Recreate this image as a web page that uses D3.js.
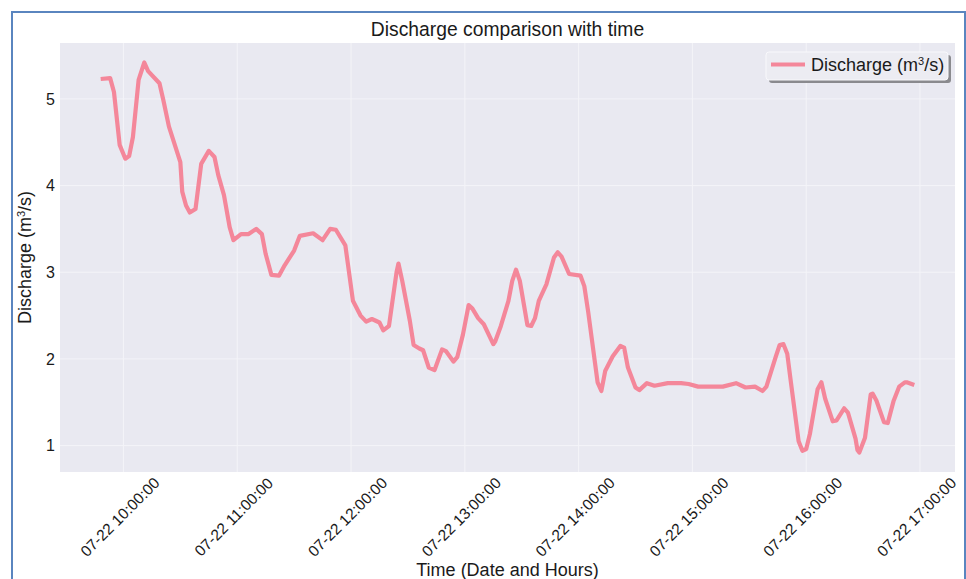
<!DOCTYPE html>
<html>
<head>
<meta charset="utf-8">
<script src="https://cdn.jsdelivr.net/npm/d3@7"></script>
<style>
  html, body { margin: 0; padding: 0; background: #ffffff; }
  svg { display: block; font-family: "Liberation Sans", Arial, sans-serif; }
</style>
</head>
<body>
<svg id="chart" width="966" height="579"></svg>
<script>
// Discharge readings on 22 July (time of reading, m³/s)
const times = [
  "09:48","09:53","09:55","09:58","10:01","10:03","10:05","10:08","10:11","10:13",
  "10:19","10:21","10:24","10:30","10:31","10:33","10:35","10:38","10:41","10:45",
  "10:48","10:50","10:53","10:56","10:58","11:02","11:06","11:10","11:13","11:15",
  "11:18","11:22","11:25","11:30","11:33","11:40","11:45","11:49","11:52","11:57",
  "12:01","12:05","12:08","12:11","12:15","12:17","12:20","12:24","12:25","12:27",
  "12:31","12:33","12:36","12:38","12:41","12:44","12:48","12:50","12:54","12:56",
  "12:59","13:02","13:04","13:07","13:10","13:15","13:16","13:19","13:23","13:25",
  "13:27","13:29","13:33","13:35","13:37","13:39","13:43","13:47","13:49","13:51",
  "13:55","14:01","14:03","14:05","14:10","14:12","14:14","14:18","14:22","14:24",
  "14:26","14:30","14:32","14:36","14:40","14:47","14:54","14:58","15:03","15:10",
  "15:16","15:23","15:28","15:33","15:37","15:39","15:44","15:46","15:48","15:50",
  "15:52","15:56","15:58","16:00","16:02","16:06","16:08","16:10","16:14","16:16",
  "16:20","16:22","16:26","16:27","16:28","16:31","16:34","16:35","16:37","16:41",
  "16:43","16:46","16:49","16:52","16:53","16:57"
];
const discharge = [
  5.23, 5.24, 5.08, 4.47, 4.31, 4.34, 4.56, 5.22, 5.42, 5.32,
  5.18, 4.99, 4.68, 4.27, 3.93, 3.77, 3.69, 3.73, 4.25, 4.40,
  4.33, 4.12, 3.89, 3.52, 3.37, 3.44, 3.44, 3.50, 3.44, 3.21,
  2.97, 2.96, 3.08, 3.25, 3.42, 3.45, 3.37, 3.50, 3.49, 3.31,
  2.67, 2.50, 2.43, 2.46, 2.42, 2.33, 2.38, 3.00, 3.10, 2.90,
  2.44, 2.16, 2.12, 2.10, 1.90, 1.87, 2.11, 2.09, 1.97, 2.02,
  2.28, 2.62, 2.58, 2.47, 2.40, 2.17, 2.20, 2.38, 2.67, 2.90,
  3.03, 2.90, 2.39, 2.38, 2.47, 2.67, 2.86, 3.17, 3.23, 3.18,
  2.98, 2.96, 2.84, 2.55, 1.73, 1.63, 1.86, 2.03, 2.15, 2.13,
  1.90, 1.67, 1.64, 1.72, 1.69, 1.72, 1.72, 1.71, 1.68, 1.68,
  1.68, 1.72, 1.67, 1.68, 1.63, 1.68, 2.03, 2.16, 2.17, 2.06,
  1.72, 1.05, 0.94, 0.96, 1.14, 1.65, 1.73, 1.54, 1.28, 1.29,
  1.43, 1.38, 1.08, 0.95, 0.92, 1.09, 1.59, 1.60, 1.52, 1.27,
  1.26, 1.51, 1.68, 1.73, 1.73, 1.70
];
const dateLabel = "07-22";
const yTicks = [1, 2, 3, 4, 5];
const titleText = "Discharge comparison with time";
const xLabelText = "Time (Date and Hours)";

const parse = d3.timeParse("%m-%d %H:%M");
const data = times.map((t, i) => ({ t: parse(dateLabel + " " + t), v: discharge[i] }));

const svg = d3.select("#chart");
const plot = { left: 60, right: 955, top: 43, bottom: 472 };

// Outer frame
svg.append("rect")
  .attr("x", 12).attr("y", 12)
  .attr("width", 953).attr("height", 620)
  .attr("fill", "none")
  .attr("stroke", "#5a85bf")
  .attr("stroke-width", 2);

// Scales with 5% padding around the data extent
const tExt = d3.extent(data, d => d.t);
const tPad = (tExt[1] - tExt[0]) * 0.05;
const x = d3.scaleTime()
  .domain([new Date(+tExt[0] - tPad), new Date(+tExt[1] + tPad)])
  .range([plot.left, plot.right]);
const vExt = d3.extent(data, d => d.v);
const vPad = (vExt[1] - vExt[0]) * 0.05;
const y = d3.scaleLinear()
  .domain([vExt[0] - vPad, vExt[1] + vPad])
  .range([plot.bottom, plot.top]);

// Plot background
svg.append("rect")
  .attr("x", plot.left).attr("y", plot.top)
  .attr("width", plot.right - plot.left)
  .attr("height", plot.bottom - plot.top)
  .attr("fill", "#e9e9f1");

const xTicks = x.ticks(d3.timeHour.every(1));

// Grid lines
const grid = svg.append("g");
grid.selectAll("line.vx").data(xTicks).join("line")
  .attr("x1", d => x(d)).attr("x2", d => x(d))
  .attr("y1", plot.top).attr("y2", plot.bottom)
  .attr("stroke", "#f4f4f8").attr("stroke-width", 1);
grid.selectAll("line.hy").data(yTicks).join("line")
  .attr("x1", plot.left).attr("x2", plot.right)
  .attr("y1", d => y(d)).attr("y2", d => y(d))
  .attr("stroke", "#f4f4f8").attr("stroke-width", 1);

// Y axis
const yAxis = svg.append("g")
  .attr("transform", `translate(${plot.left},0)`)
  .call(d3.axisLeft(y).tickValues(yTicks).tickSize(0).tickPadding(5).tickFormat(d3.format("d")));
yAxis.select(".domain").remove();
yAxis.selectAll("text")
  .attr("font-size", 16)
  .attr("font-family", "Liberation Sans, Arial, sans-serif")
  .attr("fill", "#1a1a1a");

// X axis with rotated labels
const fmt = d3.timeFormat("%m-%d %H:%M:%S");
const xAxis = svg.append("g")
  .attr("transform", `translate(0,${plot.bottom})`)
  .call(d3.axisBottom(x).tickValues(xTicks).tickSize(0).tickFormat(fmt));
xAxis.select(".domain").remove();
xAxis.selectAll("text")
  .attr("font-size", 15.5)
  .attr("font-family", "Liberation Sans, Arial, sans-serif")
  .attr("fill", "#1a1a1a")
  .attr("text-anchor", "middle")
  .attr("y", 0).attr("dy", "0.35em")
  .attr("transform", "translate(-4,45) rotate(-45)");

// Line
const line = d3.line().x(d => x(d.t)).y(d => y(d.v));
svg.append("path")
  .datum(data)
  .attr("d", line)
  .attr("fill", "none")
  .attr("stroke", "#f4879a")
  .attr("stroke-width", 4.2)
  .attr("stroke-linejoin", "round")
  .attr("stroke-linecap", "butt");

// Title and axis labels
svg.append("text")
  .attr("x", (plot.left + plot.right) / 2).attr("y", 36)
  .attr("text-anchor", "middle")
  .attr("font-size", 19.3)
  .attr("fill", "#1a1a1a")
  .text(titleText);

svg.append("text")
  .attr("x", (plot.left + plot.right) / 2).attr("y", 576)
  .attr("text-anchor", "middle")
  .attr("font-size", 18)
  .attr("fill", "#1a1a1a")
  .text(xLabelText);

const yLab = svg.append("text")
  .attr("transform", `translate(31,${(plot.top + plot.bottom) / 2}) rotate(-90)`)
  .attr("text-anchor", "middle")
  .attr("font-size", 18)
  .attr("fill", "#1a1a1a");
yLab.append("tspan").text("Discharge (m");
yLab.append("tspan").attr("baseline-shift", "super").attr("font-size", 11).text("3");
yLab.append("tspan").text("/s)");

// Legend
const lg = svg.append("g").attr("transform", "translate(766,52)");
lg.append("rect")
  .attr("x", 3).attr("y", 3).attr("width", 182).attr("height", 28)
  .attr("rx", 3).attr("fill", "#8a8a8e");
lg.append("rect")
  .attr("x", 0).attr("y", 0).attr("width", 182).attr("height", 28)
  .attr("rx", 3).attr("fill", "#ececf2").attr("stroke", "#f8f8fb").attr("stroke-width", 1);
lg.append("line")
  .attr("x1", 5).attr("x2", 39).attr("y1", 12.5).attr("y2", 12.5)
  .attr("stroke", "#f4879a").attr("stroke-width", 4);
const lt = lg.append("text")
  .attr("x", 45).attr("y", 19)
  .attr("font-size", 18)
  .attr("fill", "#1a1a1a");
lt.append("tspan").text("Discharge (m");
lt.append("tspan").attr("baseline-shift", "super").attr("font-size", 11).text("3");
lt.append("tspan").text("/s)");
</script>
</body>
</html>
